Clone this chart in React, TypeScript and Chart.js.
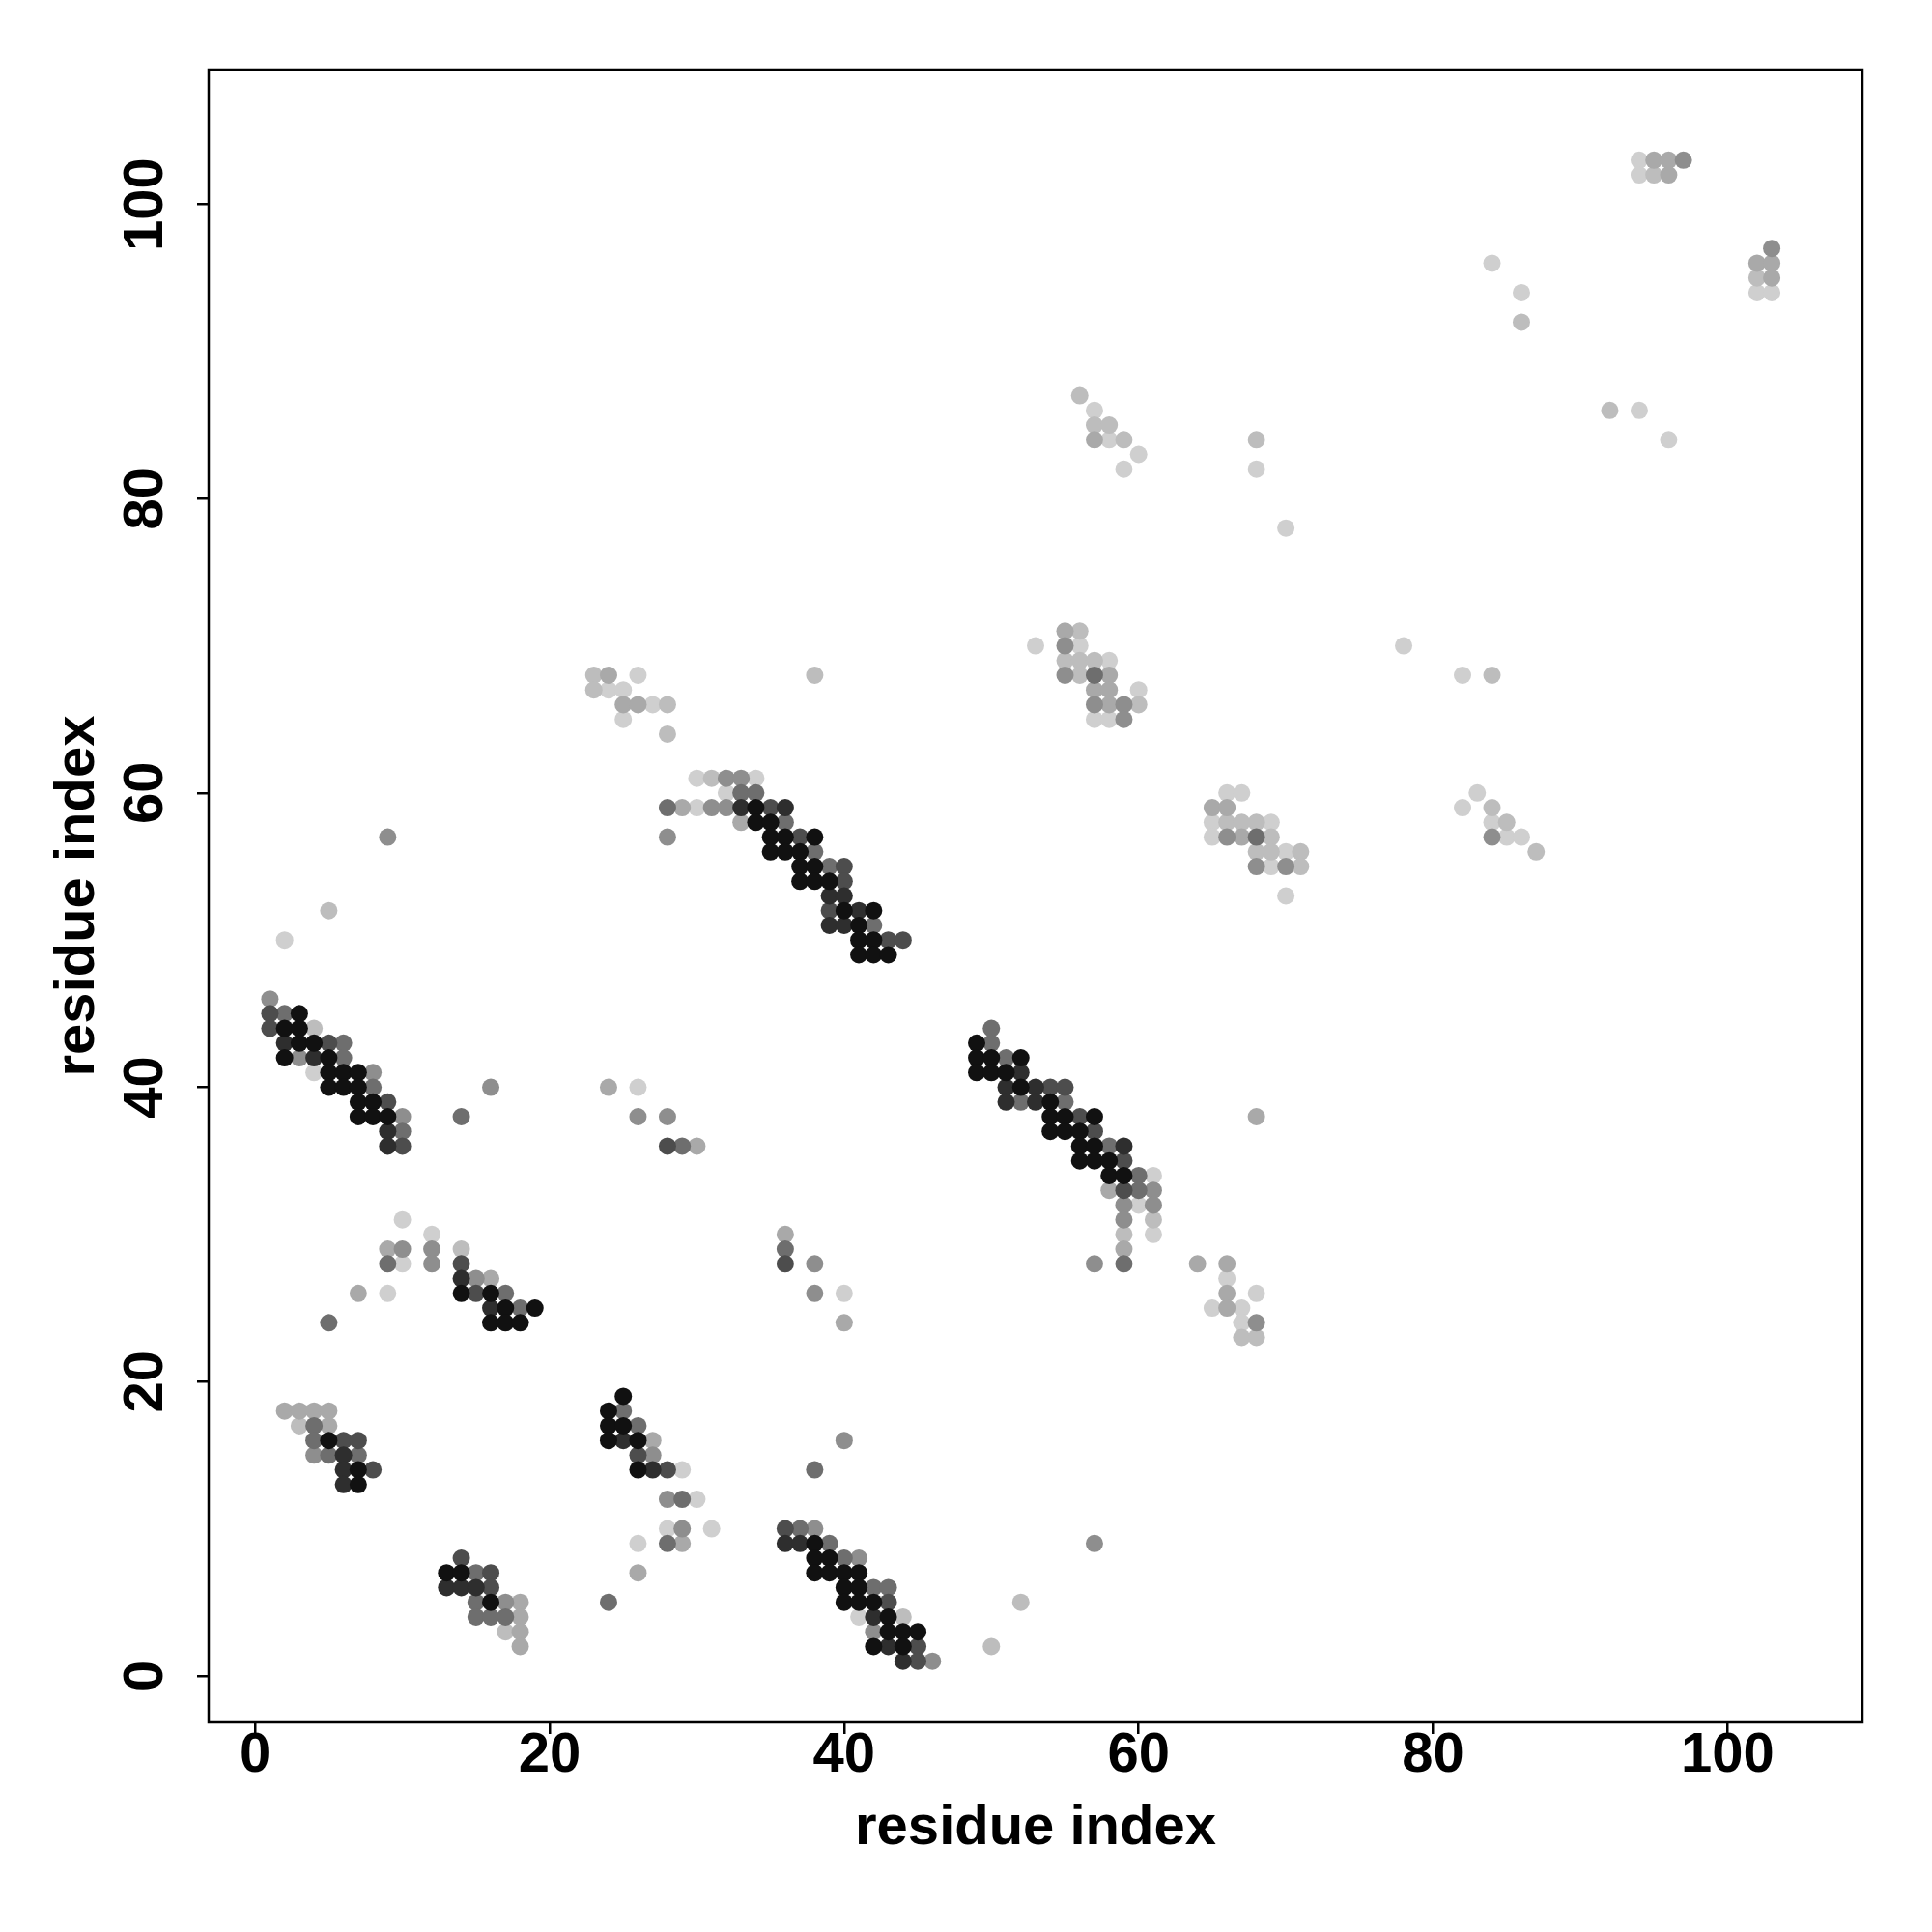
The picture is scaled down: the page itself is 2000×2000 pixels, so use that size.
import { useEffect, useRef } from "react";
import { Chart, registerables } from "chart.js";

Chart.register(...registerables);

// ---- axis definitions ----
const tickValues = [0, 20, 40, 60, 80, 100];
const xTitle = "residue index";
const yTitle = "residue index";
const axisMin = -3.16;
const axisMax = 109.16;

// ---- contact strength levels (0 = strongest / darkest) ----
const levelColors = [
  "#111111",
  "#2e2e2e",
  "#4d4d4d",
  "#6e6e6e",
  "#8e8e8e",
  "#a9a9a9",
  "#bdbdbd",
  "#cfcfcf",
];

type P = [number, number];

const level0: P[] = [
  [5, 16], [7, 14], [7, 13],
  [13, 7], [14, 7], [16, 5],
  [3, 45], [2, 44], [3, 44], [3, 43], [4, 43], [2, 42], [5, 42], [5, 41], [6, 41], [7, 41],
  [5, 40], [6, 40], [7, 40], [7, 39], [8, 39], [7, 38], [8, 38], [9, 38],
  [14, 26], [16, 26], [17, 25], [19, 25], [16, 24], [17, 24], [18, 24],
  [25, 19], [24, 18], [24, 17], [25, 17], [24, 16], [26, 16], [26, 14],
  [38, 9], [38, 8], [39, 8], [38, 7], [39, 7], [40, 7], [41, 7], [40, 6], [41, 6],
  [40, 5], [41, 5], [42, 5], [43, 4], [43, 3], [44, 3], [45, 3], [42, 2], [44, 2],
  [34, 59], [34, 58], [35, 58], [35, 57], [36, 57], [38, 57], [35, 56], [36, 56], [37, 56],
  [37, 55], [38, 55], [37, 54], [38, 54], [39, 54], [40, 52], [42, 52], [41, 51],
  [41, 50], [42, 50], [41, 49], [42, 49], [43, 49],
  [49, 43], [49, 42], [50, 42], [52, 42], [49, 41], [50, 41], [51, 41], [52, 40],
  [54, 39], [54, 38], [55, 38], [57, 38], [54, 37], [55, 37], [56, 37], [56, 36], [57, 36],
  [56, 35], [57, 35], [58, 35], [58, 34], [59, 34],
];

const level1: P[] = [
  [6, 15], [6, 14], [6, 13],
  [13, 6], [14, 6], [15, 6],
  [2, 43], [4, 42], [9, 37], [9, 36], [14, 27], [16, 25],
  [25, 16], [27, 14], [36, 9], [37, 9], [42, 4], [43, 2], [44, 1],
  [33, 59], [36, 59], [39, 53], [40, 53], [41, 52], [39, 51], [40, 51],
  [52, 41], [51, 40], [53, 40], [51, 39], [53, 39], [59, 36],
];

const level2: P[] = [
  [6, 16], [7, 16], [8, 14],
  [14, 8], [16, 7], [16, 6],
  [1, 45], [1, 44], [5, 43], [9, 39], [10, 36], [14, 28], [15, 26],
  [26, 15], [28, 14], [36, 10], [43, 5], [45, 2], [45, 1],
  [28, 36], [36, 28],
  [35, 59], [37, 57], [40, 55], [40, 54], [39, 52], [43, 50], [44, 50],
  [54, 40], [55, 40], [56, 38], [57, 37], [59, 35], [59, 33],
];

const level3: P[] = [
  [4, 17], [4, 16], [5, 15], [7, 15],
  [15, 7], [15, 5], [15, 4], [16, 4], [17, 4],
  [2, 45], [6, 43], [6, 42], [8, 40], [10, 37], [14, 38], [9, 28], [17, 26], [18, 25], [5, 24],
  [25, 18], [26, 17], [38, 14], [29, 12], [37, 10], [28, 9], [39, 9], [40, 8], [42, 6], [43, 6], [24, 5],
  [29, 36], [36, 29],
  [33, 60], [34, 60], [28, 59], [36, 58], [38, 56], [39, 55], [42, 51],
  [50, 44], [50, 43], [51, 42], [52, 39], [55, 39], [58, 36], [60, 34], [60, 33], [59, 28],
  [57, 68], [68, 57],
];

const level4: P[] = [
  [4, 15],
  [17, 5],
  [9, 57], [1, 46], [3, 42], [8, 41], [16, 40], [10, 38], [10, 29], [12, 29], [12, 28], [15, 27],
  [40, 16], [27, 15], [28, 12], [29, 10], [38, 10], [41, 8], [42, 3], [46, 1],
  [26, 38], [28, 38], [38, 28], [38, 26],
  [32, 61], [33, 61], [31, 59], [32, 59], [28, 57],
  [61, 33], [59, 32], [61, 32], [59, 31], [57, 28], [57, 9],
  [55, 70], [55, 68], [57, 66], [59, 66], [59, 65], [66, 57], [68, 55], [70, 55],
  [68, 24],
  [84, 57],
  [97, 103], [103, 97],
];

const level5: P[] = [
  [2, 18], [3, 18], [4, 18], [5, 18], [5, 17],
  [18, 5], [18, 4], [18, 3], [18, 2],
  [9, 29], [16, 27], [7, 26],
  [27, 16], [29, 9], [26, 7],
  [24, 40], [30, 36], [36, 30], [40, 24],
  [24, 68], [25, 66], [26, 66], [29, 59], [33, 58],
  [58, 33], [59, 29],
  [55, 71], [58, 68], [57, 67], [58, 67], [58, 66], [65, 59], [66, 59], [67, 57],
  [57, 84],
  [68, 38], [64, 28], [66, 28], [66, 26], [66, 25],
  [95, 103], [96, 103], [96, 102], [102, 96], [103, 96], [103, 95],
];

const level6: P[] = [
  [3, 17],
  [17, 3],
  [5, 52], [4, 44], [14, 29],
  [44, 4],
  [23, 68], [38, 68], [23, 67], [28, 66], [28, 64], [31, 61],
  [61, 31], [59, 30], [52, 5], [50, 2],
  [56, 71], [55, 69], [56, 69], [57, 69], [56, 68], [60, 66],
  [66, 58], [67, 58], [68, 58], [69, 57], [68, 56], [69, 56], [71, 56], [71, 55],
  [56, 87], [57, 85], [58, 85], [59, 84], [68, 84],
  [67, 23], [68, 23],
  [84, 68], [84, 59], [85, 58], [87, 56],
  [95, 102], [102, 95], [86, 92], [92, 86],
];

const level7: P[] = [
  [2, 50], [4, 41], [10, 31], [12, 30], [10, 28], [9, 26],
  [29, 14], [30, 12], [28, 10], [31, 10], [26, 9], [41, 4],
  [26, 40], [40, 26],
  [26, 68], [24, 67], [25, 67], [27, 66], [25, 65], [30, 61], [34, 61], [32, 60], [30, 59],
  [61, 34], [60, 32], [61, 30],
  [53, 70], [56, 70], [58, 69], [60, 67], [57, 65], [58, 65], [66, 60], [67, 60],
  [65, 58], [69, 58], [65, 57], [70, 56], [69, 55], [70, 53],
  [57, 86], [58, 84], [60, 83], [59, 82], [68, 82], [70, 78],
  [66, 27], [68, 26], [65, 25], [67, 25], [67, 24],
  [78, 70], [82, 68], [83, 60], [82, 59], [84, 58], [85, 57], [86, 57],
  [94, 103], [94, 102], [102, 94], [103, 94], [84, 96], [86, 94], [94, 86], [96, 84],
];

const levels: P[][] = [level0, level1, level2, level3, level4, level5, level6, level7];

const FONT = "'Liberation Sans', Arial, Helvetica, sans-serif";

const boxPlugin = {
  id: "plotBox",
  afterDraw(chart: any) {
    const { ctx, chartArea: a } = chart;
    ctx.save();
    ctx.strokeStyle = "#000";
    ctx.lineWidth = 2.5;
    ctx.strokeRect(a.left, a.top, a.right - a.left, a.bottom - a.top);
    ctx.restore();
  },
};

export default function App() {
  const ref = useRef<HTMLCanvasElement | null>(null);

  useEffect(() => {
    document.body.style.margin = "0";
    document.body.style.overflow = "hidden";
    const canvas = ref.current;
    if (!canvas) return;

    const datasets = levels.map((pts, i) => ({
      label: "level " + i,
      data: pts.map(([x, y]) => ({ x, y })),
      backgroundColor: levelColors[i],
      borderWidth: 0,
      pointRadius: 9,
      pointHoverRadius: 9,
      order: i,
    }));

    const tickFont = { family: FONT, size: 58, weight: "bold" as const, lineHeight: 1 };
    const titleFont = { family: FONT, size: 58, weight: "bold" as const, lineHeight: 1.2 };
    const grid = {
      drawOnChartArea: false,
      drawTicks: true,
      tickLength: 12,
      color: "#000",
      lineWidth: 2.5,
    };

    const chart = new Chart(canvas, {
      type: "scatter",
      data: { datasets },
      plugins: [boxPlugin],
      options: {
        animation: false,
        responsive: false,
        devicePixelRatio: 1,
        layout: { padding: { left: 0, top: 72, right: 72, bottom: 0 } },
        plugins: {
          legend: { display: false },
          tooltip: { enabled: false },
        },
        scales: {
          x: {
            type: "linear",
            min: axisMin,
            max: axisMax,
            afterBuildTicks: (s: any) => {
              s.ticks = tickValues.map((v) => ({ value: v }));
            },
            afterFit: (s: any) => {
              s.height = 217;
            },
            ticks: { font: tickFont, color: "#000", padding: -6 },
            grid,
            border: { display: false },
            title: {
              display: true,
              text: xTitle,
              color: "#000",
              font: titleFont,
              padding: { top: 0, bottom: 72 },
            },
          },
          y: {
            type: "linear",
            min: axisMin,
            max: axisMax,
            afterBuildTicks: (s: any) => {
              s.ticks = tickValues.map((v) => ({ value: v }));
            },
            afterFit: (s: any) => {
              s.width = 216;
            },
            ticks: {
              font: tickFont,
              color: "#000",
              minRotation: 90,
              maxRotation: 90,
              crossAlign: "center",
              padding: 4,
            },
            grid,
            border: { display: false },
            title: {
              display: true,
              text: yTitle,
              color: "#000",
              font: titleFont,
              padding: { top: 46, bottom: 0 },
            },
          },
        },
      } as any,
    });

    return () => chart.destroy();
  }, []);

  return (
    <div style={{ width: 2000, height: 2000 }}>
      <canvas ref={ref} width={2000} height={2000} style={{ display: "block", width: 2000, height: 2000 }} />
    </div>
  );
}
